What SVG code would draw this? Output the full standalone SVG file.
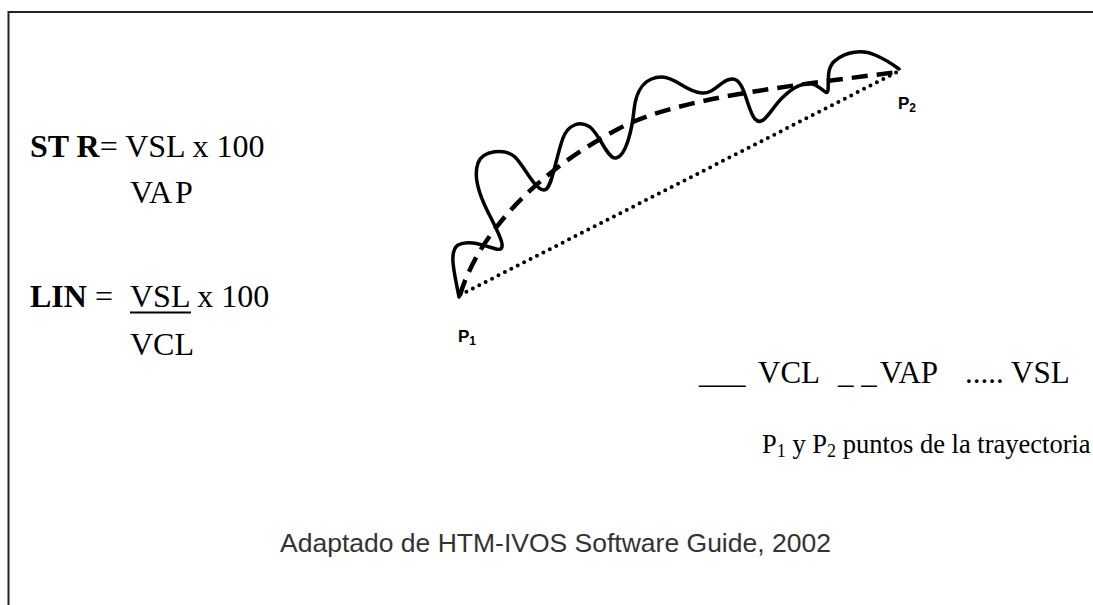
<svg xmlns="http://www.w3.org/2000/svg" width="1093" height="605" viewBox="0 0 1093 605">
<style>
.serif{font-family:"Liberation Serif","Times New Roman",serif;fill:#000}
.f{font-size:32px}
.lg{font-size:31px}
.lg2{font-size:26.5px}
.b{font-weight:bold}
.lbl{font-family:"Liberation Sans",Arial,sans-serif;font-weight:bold;font-size:17px;fill:#000}
.src{font-family:"Liberation Sans",Arial,sans-serif;font-size:26.5px;fill:#333}
.vcl{fill:none;stroke:#000;stroke-width:3.5;stroke-linecap:round;stroke-linejoin:round}
.vap{fill:none;stroke:#000;stroke-width:4.5;stroke-dasharray:16 9}
.vsl{fill:none;stroke:#000;stroke-width:4;stroke-linecap:round;stroke-dasharray:0 7.2}
</style>
<rect width="1093" height="605" fill="#fff"/>
<path d="M8.5,605 V12 H1093" fill="none" stroke="#222" stroke-width="2"/>
<g id="formula-str">
<text class="serif f" x="30" y="157"><tspan class="b">ST R</tspan>= VSL x 100</text>
<text class="serif f" x="130" y="203">VA<tspan dx="3">P</tspan></text>
</g>
<g id="formula-lin">
<text class="serif f" x="30" y="307"><tspan class="b">LIN</tspan> = </text>
<text class="serif f" x="130" y="307">VSL x 100</text>
<line x1="130" y1="312.5" x2="191" y2="312.5" stroke="#000" stroke-width="2"/>
<text class="serif f" x="130" y="355">VCL</text>
</g>
<g id="connectors">
<path id="vsl" class="vsl" d="M460,295 L899,71"/>
<path id="vap" class="vap" d="M460,295 C480,230 540,170 620,128 C680,96.5 800,85 897,72"/>
<path id="vcl" class="vcl" d="M459,297 C455,275 448,252 458,245 C468,239 485,246 496,249 C508,252 500,236 492,220 C483,203 472,180 478,163 C483,150 505,148 515,157 C525,167 535,190 544,190 C552,190 555,160 563,138 C568,125 580,120 590,127 C600,135 608,160 616,158 C626,156 632,130 634,110 C636,90 645,77 662,77 C676,77 685,92 702,93 C715,94 722,78 733,79 C745,80 747,110 755,119 C763,128 770,110 782,98 C792,88 805,80 815,85 C825,90 827,96 828,90 C829,80 826,67 836,60 C846,52 862,49 875,55 C887,60 895,66 899,69"/>
</g>
<g id="p1">
<text class="lbl" x="458" y="342">P<tspan font-size="12" dy="3">1</tspan></text>
</g>
<g id="p2">
<text class="lbl" x="898" y="109">P<tspan font-size="12" dy="3">2</tspan></text>
</g>
<g id="legend">
<text class="serif lg" x="699" y="383">___</text>
<text class="serif lg" x="758" y="383">VCL</text>
<text class="serif lg" x="838" y="383">_ _</text>
<text class="serif lg" x="880" y="383">VAP</text>
<text class="serif lg" x="965" y="383">.....</text>
<text class="serif lg" x="1011" y="383">VSL</text>
<text class="serif lg2" x="762" y="453">P<tspan font-size="18" dy="4">1</tspan><tspan dy="-4"> y P</tspan><tspan font-size="18" dy="4">2</tspan><tspan dy="-4"> puntos de la trayectoria</tspan></text>
</g>
<g id="source">
<text class="src" x="280" y="552">Adaptado de HTM-IVOS Software Guide, 2002</text>
</g>
</svg>
